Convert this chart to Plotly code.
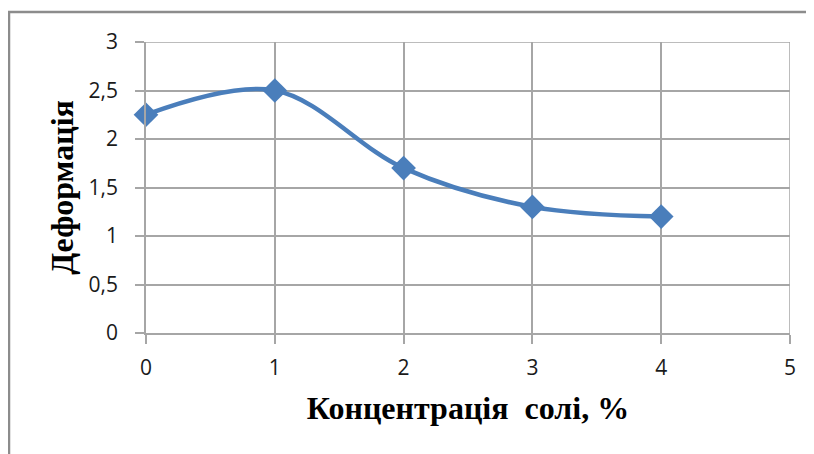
import plotly.graph_objects as go

concentration = [0, 1, 2, 3, 4]
deformation = [2.25, 2.5, 1.7, 1.3, 1.2]
x_ticks = [0, 1, 2, 3, 4, 5]
y_ticks = [0, 0.5, 1, 1.5, 2, 2.5, 3]
y_tick_labels = ["0", "0,5", "1", "1,5", "2", "2,5", "3"]

W, H = 814, 454
OFF = 7  # page offset of the figure
L, R, T, B = 145 - OFF, 25 + OFF, 41 - OFF, 122 + OFF
pw, ph = W - L - R, H - T - B

def px_to_paper_x(px):
    return (px - OFF - L) / pw

def px_to_paper_y(py):
    return (H - B - (py - OFF)) / ph

fig = go.Figure()
fig.add_trace(go.Scatter(
    x=concentration, y=deformation,
    mode="lines+markers",
    line=dict(color="#4A7EBB", width=4.5, shape="spline", smoothing=1.0),
    marker=dict(symbol="diamond", size=19, color="#4A7EBB"),
    cliponaxis=False,
    showlegend=False,
))

grid = "#A6A6A6"
tickfont = dict(family="Open Sans", size=21, color="#1A1A1A")
titlefont = dict(family="Liberation Serif", size=32, color="black")
fig.update_layout(
    width=W, height=H,
    margin=dict(l=L, r=R, t=T, b=B),
    paper_bgcolor="white", plot_bgcolor="white",
    xaxis=dict(
        range=[0, 5], tickvals=x_ticks, ticktext=[str(v) for v in x_ticks],
        showgrid=True, gridcolor=grid, gridwidth=1.5,
        zeroline=False, showline=True, linecolor=grid, linewidth=1.5,
        ticks="outside", ticklen=9, tickcolor=grid, tickwidth=1.5,
        tickfont=tickfont, ticklabelstandoff=6,
        title=dict(text="<b>Концентрація  солі, %</b>", font=titlefont, standoff=17),
        fixedrange=True,
    ),
    yaxis=dict(
        range=[0, 3], tickvals=y_ticks, ticktext=y_tick_labels,
        showgrid=True, gridcolor=grid, gridwidth=1.5,
        zeroline=False, showline=True, linecolor=grid, linewidth=1.5,
        ticks="outside", ticklen=9, tickcolor=grid, tickwidth=1.5,
        tickfont=tickfont, ticklabelstandoff=13,
        title=dict(text="<b>Деформація</b>", font=titlefont, standoff=5),
        fixedrange=True,
    ),
    shapes=[
        dict(type="line", xref="paper", yref="paper",
             x0=px_to_paper_x(8), x1=px_to_paper_x(8),
             y0=px_to_paper_y(11), y1=px_to_paper_y(470),
             line=dict(color="#8C8C8C", width=2.5)),
        dict(type="line", xref="paper", yref="paper",
             x0=px_to_paper_x(7), x1=px_to_paper_x(830),
             y0=px_to_paper_y(11), y1=px_to_paper_y(11),
             line=dict(color="#8C8C8C", width=2.5)),
    ],
)
fig.add_shape(type="line", xref="x", yref="paper", x0=5, x1=5, y0=0, y1=1,
              line=dict(color=grid, width=1.5))
fig.add_shape(type="line", xref="paper", yref="y", x0=0, x1=1, y0=3, y1=3,
              line=dict(color=grid, width=1.5))

fig.write_html("out.html")
